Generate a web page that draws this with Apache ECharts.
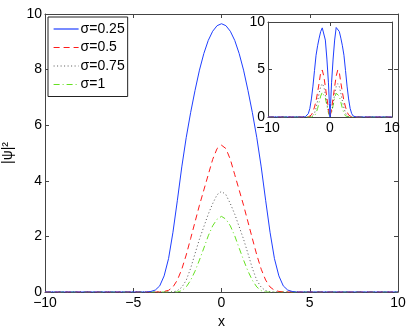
<!DOCTYPE html>
<html>
<head>
<meta charset="utf-8">
<script src="https://cdn.jsdelivr.net/npm/echarts@6/dist/echarts.min.js"></script>
<style>
  html, body { margin: 0; padding: 0; background: #fff; }
  #main { width: 409px; height: 327px; }
</style>
</head>
<body>
<div id="main"></div>
<script>
// half curves (curves are symmetric about x=0)
var xHalf = [0, 0.25, 0.5, 0.75, 1, 1.25, 1.5, 1.75, 2, 2.25, 2.5, 2.75, 3, 3.25, 3.5, 3.75, 4, 4.25, 4.5];
var blue  = [9.65, 9.58, 9.38, 9.05, 8.58, 7.98, 7.25, 6.45, 5.55, 4.50, 3.30, 2.15, 1.20, 0.58, 0.22, 0.07, 0.02, 0, 0];
var red   = [5.28, 5.16, 4.77, 4.22, 3.67, 3.12, 2.52, 1.92, 1.33, 0.82, 0.43, 0.18, 0.06, 0.02, 0, 0, 0, 0, 0];
var gray  = [3.62, 3.50, 3.18, 2.80, 2.35, 1.90, 1.38, 0.85, 0.42, 0.17, 0.05, 0, 0, 0, 0, 0, 0, 0, 0];
var green = [2.72, 2.62, 2.38, 2.02, 1.58, 1.15, 0.75, 0.42, 0.18, 0.05, 0, 0, 0, 0, 0, 0, 0, 0, 0];

// inset curves
var xInset     = [0, 0.1, 0.25, 0.5, 0.75, 1, 1.25, 1.5, 1.75, 2, 2.25, 2.5, 2.75, 3, 3.25, 3.5, 3.75, 4, 4.25, 4.5];
var blueInset  = [0, 1.4, 3.6, 6.1, 8.1, 9.42, 9.38, 9.0, 8.3, 7.5, 6.5, 4.9, 3.25, 1.9, 0.9, 0.35, 0.1, 0.02, 0, 0];
var redInset   = [0, 0.3, 0.85, 2.0, 3.2, 4.3, 4.95, 4.7, 3.6, 2.6, 1.7, 1.05, 0.55, 0.22, 0.05, 0, 0, 0, 0, 0];
var grayInset  = [0, 0.2, 0.55, 1.4, 2.4, 3.2, 3.5, 3.2, 2.5, 1.7, 0.95, 0.4, 0.1, 0, 0, 0, 0, 0, 0, 0];
var greenInset = [0, 0.15, 0.45, 1.2, 2.0, 2.5, 2.6, 2.2, 1.55, 0.9, 0.4, 0.12, 0, 0, 0, 0, 0, 0, 0, 0];

var names = ['σ=0.25', 'σ=0.5', 'σ=0.75', 'σ=1'];

var colors = ['#1f3fff', '#ff1a1a', '#555555', '#66e022'];
var dashes = ['solid', [6, 4], [1, 2.5], [6, 3, 1, 3]];

function mirror(xs, ys) {
    var out = [[-10, 0]];
    for (var i = xs.length - 1; i > 0; i--) out.push([-xs[i], ys[i]]);
    for (var j = 0; j < xs.length; j++) out.push([xs[j], ys[j]]);
    out.push([10, 0]);
    return out;
}
function minus(v) { return String(v).replace('-', '\u2212'); }

var font = 'Liberation Sans, Arial, sans-serif';
var axisCol = '#444';
var fs = 14;

function xAx(grid, pos, labels, extra) {
    var a = {
        type: 'value', gridIndex: grid, position: pos, min: -10, max: 10, interval: 5,
        axisLine: { show: true, onZero: false, lineStyle: { color: axisCol, width: 1 } },
        axisTick: { show: true, inside: true, length: 4, lineStyle: { color: axisCol } },
        axisLabel: { show: labels, color: '#000', fontSize: fs, fontFamily: font, margin: 4, formatter: minus },
        splitLine: { show: false }
    };
    for (var k in extra) a[k] = extra[k];
    return a;
}
function yAx(grid, pos, labels, interval, extra) {
    var a = {
        type: 'value', gridIndex: grid, position: pos, min: 0, max: 10, interval: interval,
        axisLine: { show: true, onZero: false, lineStyle: { color: axisCol, width: 1 } },
        axisTick: { show: true, inside: true, length: 4, lineStyle: { color: axisCol } },
        axisLabel: { show: labels, color: '#000', fontSize: fs, fontFamily: font, margin: 3 },
        splitLine: { show: false }
    };
    for (var k in extra) a[k] = extra[k];
    return a;
}

var myChart = echarts.init(document.getElementById('main'));

var series = [];
var mainData = [blue, red, gray, green];
var insetData = [blueInset, redInset, grayInset, greenInset];
for (var i = 0; i < 4; i++) {
    series.push({
        name: names[i], type: 'line', xAxisIndex: 0, yAxisIndex: 0,
        data: mirror(xHalf, mainData[i]), symbol: 'none', showSymbol: false,
        color: colors[i],
        lineStyle: { color: colors[i], width: 1, type: dashes[i] }, itemStyle: { color: colors[i] },
        z: 10 - i, animation: false
    });
}
for (var m = 0; m < 4; m++) {
    series.push({
        name: 'inset ' + names[m], type: 'line', xAxisIndex: 2, yAxisIndex: 2,
        data: mirror(xInset, insetData[m]), symbol: 'none', showSymbol: false,
        color: colors[m],
        lineStyle: { color: colors[m], width: 1, type: dashes[m] },
        z: 10 - m, animation: false
    });
}

// legend entries carry their own line style so the samples keep colour and dash
var legendData = names.map(function (n, k) {
    return { name: n, itemStyle: { opacity: 0 },
             lineStyle: { color: colors[k], width: 1.2, type: dashes[k] } };
});

var option = {
    backgroundColor: '#fff',
    animation: false,
    color: colors,
    textStyle: { fontFamily: font },
    grid: [
        { left: 45, right: 11, top: 14, bottom: 35, outerBoundsMode: 'none', containLabel: false },
        { left: 268, width: 124, top: 22, height: 95, show: true, backgroundColor: '#fff', borderWidth: 0, z: 5,
          outerBoundsMode: 'none', containLabel: false }
    ],
    legend: {
        data: legendData, orient: 'vertical', left: 48, top: 17,
        itemWidth: 25, itemHeight: 14, itemGap: 4.5, padding: [5, 3, 5, 5],
        backgroundColor: '#fff', borderColor: '#222', borderWidth: 1,
        textStyle: { color: '#000', fontSize: fs, fontFamily: font, padding: [0, 0, 0, -3] },
        z: 20
    },
    xAxis: [
        xAx(0, 'bottom', true, { name: 'x', nameLocation: 'middle', nameGap: 20,
            nameTextStyle: { color: '#000', fontSize: fs, fontFamily: font } }),
        xAx(0, 'top', false, {}),
        xAx(1, 'bottom', true, { interval: 10, z: 6 }),
        xAx(1, 'top', false, { interval: 10, z: 6 })
    ],
    yAxis: [
        yAx(0, 'left', true, 2, { name: '|ψ|²', nameLocation: 'middle', nameGap: 26, nameRotate: 90,
            nameTextStyle: { color: '#000', fontSize: fs, fontFamily: font } }),
        yAx(0, 'right', false, 2, {}),
        yAx(1, 'left', true, 5, { z: 6 }),
        yAx(1, 'right', false, 5, { z: 6 })
    ],
    series: series
};

myChart.setOption(option);
</script>
</body>
</html>
